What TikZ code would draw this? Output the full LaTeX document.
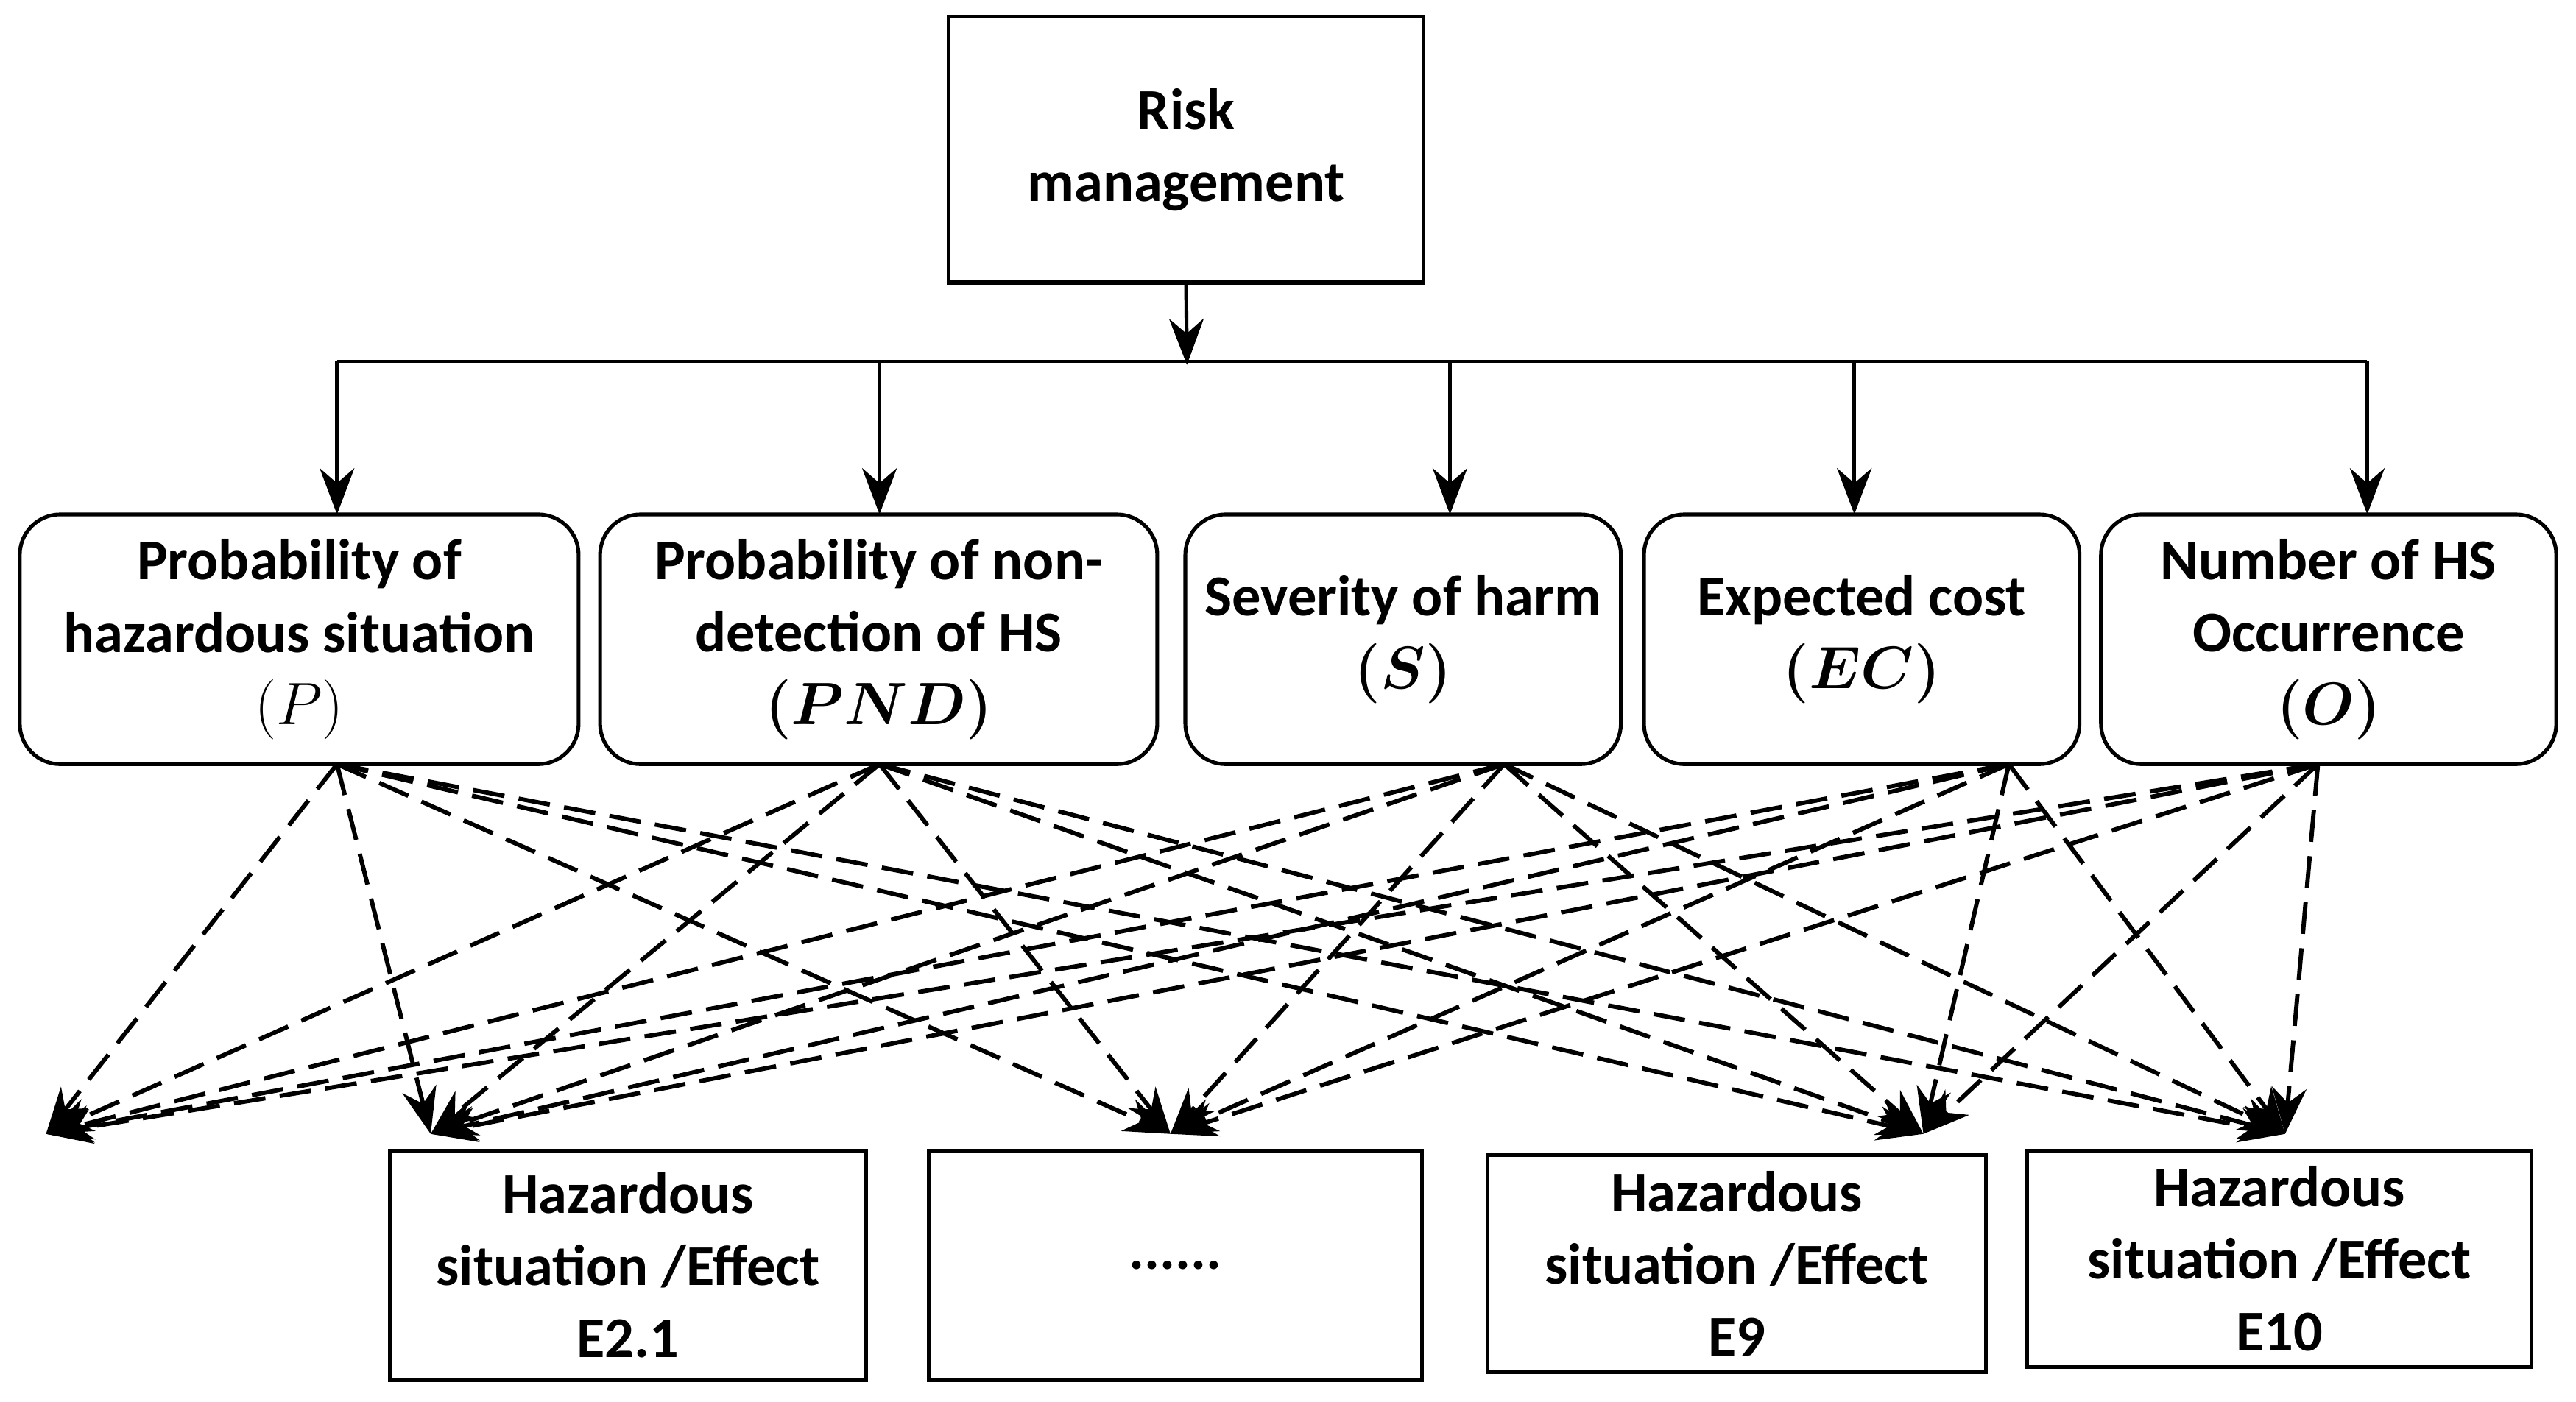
\documentclass[tikz,border=0pt]{standalone}
\usepackage{fontspec}
\usepackage{amsmath,bm}
\setmainfont{Carlito}
\usetikzlibrary{arrows.meta}
\begin{document}
\begin{tikzpicture}[x=0.02cm,y=-0.02cm,
 box/.style={draw,line width=1.3pt,align=center,font=\fontsize{20}{25}\selectfont\bfseries,inner sep=0pt},
 rbox/.style={box,rounded corners=14pt},
 arr/.style={line width=1.3pt,-{Stealth[length=16pt,width=12pt]}},
 darr/.style={line width=1.5pt,dash pattern=on 11pt off 5pt,-{Stealth[length=16pt,width=12pt]}}]
\useasboundingbox (0,0) rectangle (1567,853);
\node[box,minimum width=5.78cm,minimum height=3.24cm] (rm) at (721.5,91) {Risk\\management};
\coordinate (hub) at (722,222);
\draw[arr] (rm.south) -- (hub);
\draw[line width=1pt] (205,220) -- (1440,220);
\node[rbox,minimum width=6.8cm,minimum height=3.04cm] (b1) at (182,389) {Probability of\\hazardous situation\\\mdseries$(P)$};
\node[rbox,minimum width=6.78cm,minimum height=3.04cm] (b2) at (534.5,389) {Probability of non-\\detection of HS\\$\bm{(PND)}$};
\node[rbox,minimum width=5.3cm,minimum height=3.04cm] (b3) at (853.5,389) {Severity of harm\\$\bm{(S)}$};
\node[rbox,minimum width=5.3cm,minimum height=3.04cm] (b4) at (1132.5,389) {Expected cost\\$\bm{(EC)}$};
\node[rbox,minimum width=5.54cm,minimum height=3.04cm] (b5) at (1416.5,389) {Number of HS\\Occurrence\\$\bm{(O)}$};
\foreach \x/\n in {205/a,535/b,882/c,1128/d,1440/e}{
 \coordinate (top\n) at (\x,220); \coordinate (bot\n) at (\x,313);
 \draw[arr] (top\n) -- (bot\n);}
\node[box,minimum width=5.8cm,minimum height=2.8cm] (h1) at (382,770) {Hazardous\\situation /Effect\\E2.1};
\node[box,minimum width=6.0cm,minimum height=2.8cm] (h2) at (715,770) {......};
\node[box,minimum width=6.06cm,minimum height=2.64cm] (h3) at (1056.5,769) {Hazardous\\situation /Effect\\E9};
\node[box,minimum width=6.14cm,minimum height=2.64cm] (h4) at (1386.5,766) {Hazardous\\situation /Effect\\E10};
\coordinate (s1) at (205,465); \coordinate (s2) at (535,465);
\coordinate (s3) at (915,465); \coordinate (s4) at (1222,465);
\coordinate (s5) at (1410,465);
\coordinate (g0) at (28,690); \coordinate (g1) at (262,690);
\coordinate (g2) at (712,690); \coordinate (g3) at (1170,690);
\coordinate (g4) at (1390,690);
\foreach \s in {1,...,5}{\foreach \g in {0,...,4}{\draw[darr] (s\s) -- (g\g);}}
\end{tikzpicture}
\end{document}
